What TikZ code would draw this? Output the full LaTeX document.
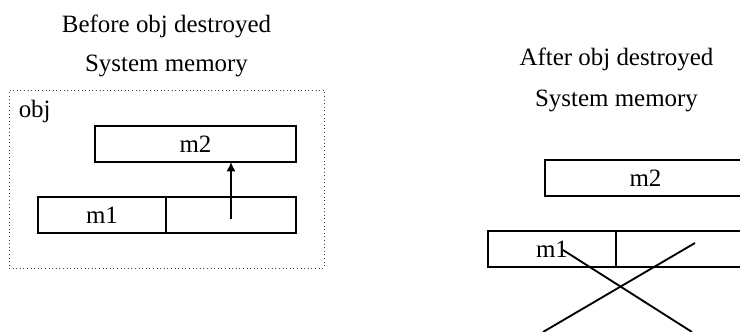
\documentclass[tikz,border=0pt]{standalone}
\usepackage{fontspec}
\setmainfont{Liberation Serif}
\usetikzlibrary{arrows}
\usetikzlibrary{arrows.meta}
\usetikzlibrary{positioning}
\tikzset{cell/.style = {draw, line width = 1.4pt, outer sep = 0, inner sep = 0,
    minimum height = 27pt}}
\tikzset{lbl/.style = {anchor = base, inner sep = 0}}

\begin{document}
\begin{tikzpicture}[x = 0.75pt, y = -0.75pt, font = \fontsize{18.7}{22}\selectfont]
    \path [use as bounding box, clip] (0, 0) rectangle (740, 332);

    % before
    \node [lbl] (t1) at (166.5, 32) {Before obj destroyed};
    \node [lbl] (s1) at (166.5, 71) {System memory};
    \node [draw, dotted, black!75, line width = 0.7pt, minimum width = 236.25pt,
        minimum height = 133.5pt] (obj) at (166.5, 179) {};
    \node [lbl, anchor = base west] (objname) at (18.5, 117) {obj};

    \node [cell, minimum width = 150.75pt] (m2) at (195.5, 144) {m2};
    \node [cell, minimum width = 96pt] (m1) at (102, 215) {m1};
    \node [cell, minimum width = 97.5pt, right = 0pt of m1] (p1) {};

    \draw [-{Latex[length = 7pt, width = 7pt]}, line width = 1.4pt]
        ([yshift = -3pt]p1.center) -- (p1.center |- m2.south);

    % after
    \node [lbl] (t2) at (616.5, 65) {After obj destroyed};
    \node [lbl] (s2) at (616.5, 106) {System memory};

    \node [cell, minimum width = 150.75pt] (m2b) at (645.5, 178) {m2};
    \node [cell, minimum width = 96pt] (m1b) at (552, 249) {m1};
    \node [cell, minimum width = 97.5pt, right = 0pt of m1b] (p1b) {};

    \coordinate (x1) at (563, 250);
    \coordinate (x2) at (692, 332);
    \coordinate (x3) at (695, 243);
    \coordinate (x4) at (543, 332);
    \draw [line width = 1.4pt] (x1) -- (x2);
    \draw [line width = 1.4pt] (x3) -- (x4);
  \end{tikzpicture}
\end{document}
